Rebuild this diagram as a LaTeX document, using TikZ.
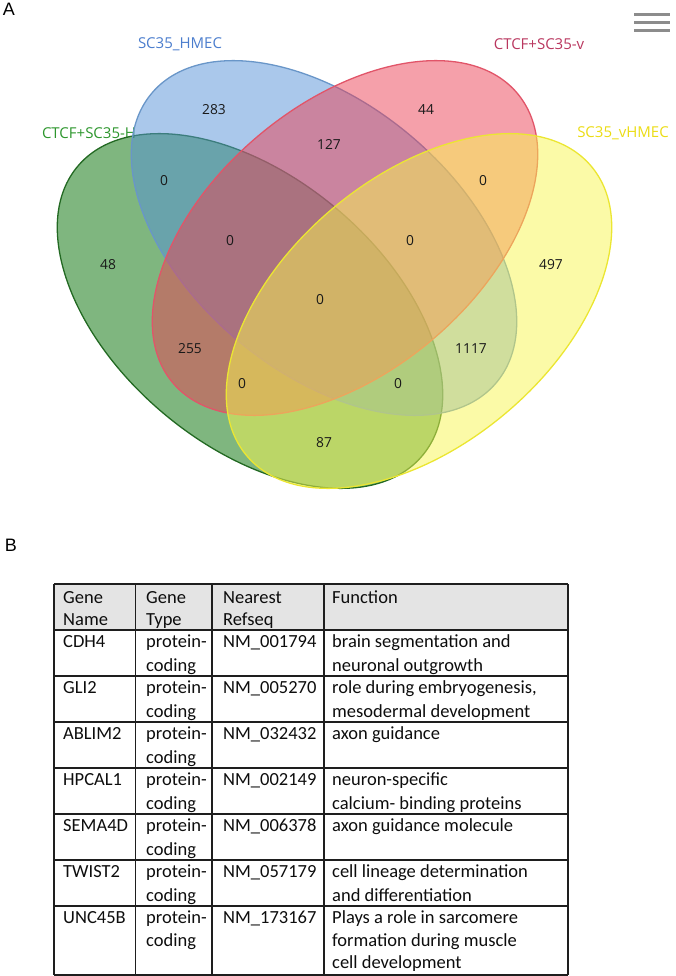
\documentclass[tikz,border=0pt]{standalone}
\usepackage{fontspec}
\newfontfamily\vennfont{Open Sans}
\newfontfamily\tabfont{Carlito}
\newfontfamily\panelfont{Liberation Sans}
\definecolor{vgreen}{RGB}{0,110,0}
\definecolor{vgreenE}{RGB}{35,105,35}
\definecolor{vblue}{RGB}{85,145,215}
\definecolor{vblueE}{RGB}{105,150,200}
\definecolor{vred}{RGB}{235,65,85}
\definecolor{vredE}{RGB}{225,85,105}
\definecolor{vyellow}{RGB}{248,245,80}
\definecolor{vyellowE}{RGB}{235,230,50}
\definecolor{labblue}{RGB}{75,125,205}
\definecolor{labred}{RGB}{185,55,95}
\definecolor{labgreen}{RGB}{45,150,45}
\definecolor{labyellow}{RGB}{235,220,20}
\definecolor{menugray}{RGB}{140,140,140}
\definecolor{headgray}{RGB}{228,228,228}
\definecolor{rulecol}{RGB}{30,30,30}
\newcommand\genrow[6]{%
  \node[tt] (g#1)  at (63,#2+17)  {#3};
  \node[tt] (ta#1) at (146,#2+17) {protein-};
  \node[tt] (tb#1) at (146,#2+41) {coding};
  \node[tt] (r#1)  at (223,#2+17) {#4};
  \node[tt] (fa#1) at (332,#2+17) {#5};
  \node[tt] (fb#1) at (332,#2+41) {#6};
}
\begin{document}
\begin{tikzpicture}[x=1pt,y=-1pt,
  tt/.style={font=\tabfont\fontsize{18.5}{22}\selectfont, anchor=base west, inner sep=0pt, text=black!95},
  num/.style={font=\vennfont\fontsize{13.8}{16}\selectfont, inner sep=0pt, text=black!90},
  setlab/.style={font=\vennfont\fontsize{15}{18}\selectfont, inner sep=0pt},
  vset/.style={line width=1.3pt, fill opacity=0.5},
  panel/.style={font=\panelfont\fontsize{18}{20}\selectfont, inner sep=0pt, text=black},
  tabrule/.style={line width=1.6pt, draw=rulecol},
  menuline/.style={line width=3pt, draw=menugray}]
\useasboundingbox (0,0) rectangle (676,976);

% panel letters
\node[panel] (pA) at (9,9) {A};
\node[panel] (pB) at (11,545) {B};

% menu icon
\draw[menuline] (634,15) -- (670,15);
\draw[menuline] (634,23) -- (670,23);
\draw[menuline] (634,31) -- (670,31);

% set labels
\node[setlab, text=labblue]   (lHMEC)  at (180,44)  {SC35\_HMEC};
\node[setlab, text=labred]    (lCTCFv) at (539,44)  {CTCF+SC35-v};
\node[setlab, text=labgreen]  (lCTCFH) at (89,133)  {CTCF+SC35-H};
\node[setlab, text=labyellow] (lvHMEC) at (623,133) {SC35\_vHMEC};

% ellipses
\filldraw[vset, fill=vgreen, draw=vgreenE, rotate around={-40:(250,311)}]
  (250,311) ellipse [x radius=225pt, y radius=134pt];
\filldraw[vset, fill=vblue, draw=vblueE, rotate around={-40:(324,238)}]
  (324,238) ellipse [x radius=225pt, y radius=134pt];
\filldraw[vset, fill=vred, draw=vredE, rotate around={40:(345,238)}]
  (345,238) ellipse [x radius=225pt, y radius=134pt];
\filldraw[vset, fill=vyellow, draw=vyellowE, rotate around={40:(419,311)}]
  (419,311) ellipse [x radius=225pt, y radius=134pt];

% counts
\node[num] (n283)  at (214,110) {283};
\node[num] (n44)   at (426,110) {44};
\node[num] (n127)  at (329,145) {127};
\node[num] (nGB)   at (164,181) {0};
\node[num] (nRY)   at (483,181) {0};
\node[num] (nGBR)  at (230,241) {0};
\node[num] (nBRY)  at (410,241) {0};
\node[num] (n48)   at (108,265) {48};
\node[num] (n497)  at (551,265) {497};
\node[num] (nAll)  at (320,300) {0};
\node[num] (n255)  at (190,349) {255};
\node[num] (n1117) at (471,349) {1117};
\node[num] (nGRY)  at (242,384) {0};
\node[num] (nGBY)  at (398,384) {0};
\node[num] (n87)   at (324,443) {87};

% table
\fill[headgray] (54,584) rectangle (568,630);
\draw[tabrule, line width=2pt] (54,584) -- (568,584);
\draw[tabrule, line width=2pt] (54,630) -- (568,630);
\foreach \yy in {676,722,768,814,860,906,975}
  \draw[tabrule] (54,\yy) -- (568,\yy);
\foreach \xx in {54,135.5,212,324,568}
  \draw[tabrule] (\xx,584) -- (\xx,975);

\node[tt] (h1a) at (63,603)  {Gene};
\node[tt] (h1b) at (63,625)  {Name};
\node[tt] (h2a) at (146,603) {Gene};
\node[tt] (h2b) at (146,625) {Type};
\node[tt] (h3a) at (223,603) {Nearest};
\node[tt] (h3b) at (223,625) {Refseq};
\node[tt] (h4a) at (332,603) {Function};

\genrow{1}{630}{CDH4}{NM\_001794}{brain segmentation and}{neuronal outgrowth}
\genrow{2}{676}{GLI2}{NM\_005270}{role during embryogenesis,}{mesodermal development}
\genrow{3}{722}{ABLIM2}{NM\_032432}{axon guidance}{}
\genrow{4}{768}{HPCAL1}{NM\_002149}{neuron-specific}{calcium- binding proteins}
\genrow{5}{814}{SEMA4D}{NM\_006378}{axon guidance molecule}{}
\genrow{6}{860}{TWIST2}{NM\_057179}{cell lineage determination}{and differentiation}

\node[tt] (g7)  at (63,923)  {UNC45B};
\node[tt] (ta7) at (146,923) {protein-};
\node[tt] (tb7) at (146,946) {coding};
\node[tt] (r7)  at (223,923) {NM\_173167};
\node[tt] (fa7) at (332,923) {Plays a role in sarcomere};
\node[tt] (fb7) at (332,946) {formation during muscle};
\node[tt] (fc7) at (332,968) {cell development};
\end{tikzpicture}
\end{document}
